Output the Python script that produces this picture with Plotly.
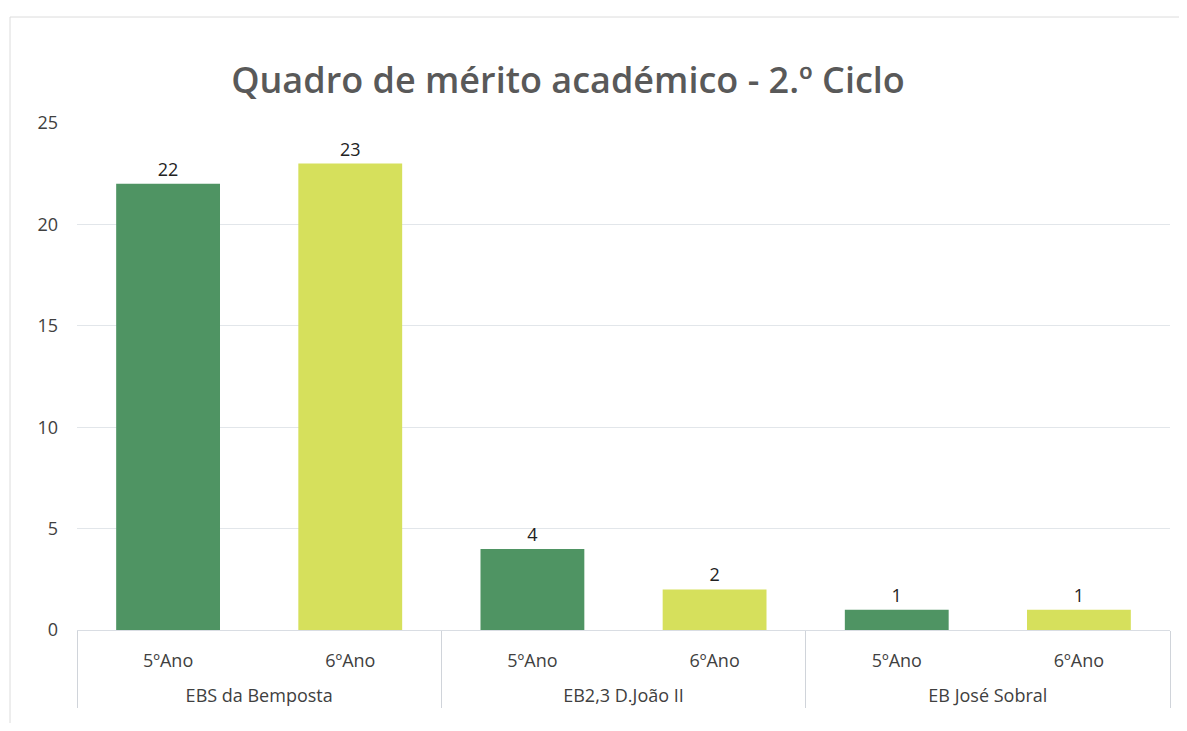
import plotly.graph_objects as go

schools = ["EBS da Bemposta", "EBS da Bemposta", "EB2,3 D.João II", "EB2,3 D.João II",
           "EB José Sobral", "EB José Sobral"]
years = ["5ºAno", "6ºAno", "5ºAno", "6ºAno", "5ºAno", "6ºAno"]
values = [22, 23, 4, 2, 1, 1]
year_colors = {"5ºAno": "#4f9463", "6ºAno": "#d6e05c"}
y_ticks = [0, 5, 10, 15, 20, 25]

# school-row labels start with an invisible line so they sit lower (as in Excel)
spacer = "<span style='color:rgba(0,0,0,0)'>.</span><br>"
school_labels = [spacer + s for s in schools]

OFF = 8  # page body margin
W, H = 1187 - 2 * OFF, 731 - 2 * OFF
L = 77 - OFF
T = 123 - OFF
R = W - (1170 - OFF)
B = H - (630 - OFF)
pw, ph = W - L - R, H - T - B

fig = go.Figure()
fig.add_trace(go.Bar(
    x=[school_labels, years],
    y=values,
    marker=dict(color=[year_colors[y] for y in years], line=dict(width=0)),
    text=[str(v) for v in values],
    textposition="outside",
    cliponaxis=False,
    textfont=dict(family="Open Sans", size=18, color="#222222"),
    showlegend=False,
))

fig.update_layout(
    width=W, height=H,
    margin=dict(l=L, r=R, t=T, b=B),
    paper_bgcolor="white",
    plot_bgcolor="white",
    bargap=0.43,
    title=dict(
        text="Quadro de mérito académico - 2.º Ciclo",
        x=(568 - OFF - L) / pw, xref="paper", xanchor="center",
        y=1 - (80 - OFF) / H, yref="container", yanchor="middle",
        font=dict(family="Open Sans", size=36, color="#595959", weight=600),
    ),
    font=dict(family="Open Sans", size=18, color="#404040"),
    xaxis=dict(
        type="multicategory",
        showline=True, linecolor="#d9dde3", linewidth=1,
        showdividers=True, dividercolor="#d0d4da", dividerwidth=1,
        tickfont=dict(family="Open Sans", size=18, color="#404040"),
        ticks="", ticklabelstandoff=14,
        showgrid=False,
    ),
    yaxis=dict(
        range=[0, 25],
        tickvals=y_ticks,
        showgrid=True, gridcolor="#e2e6ea", gridwidth=1,
        zeroline=False, showline=False,
        ticks="", ticklabelstandoff=18,
        tickfont=dict(family="Open Sans", size=18, color="#404040"),
    ),
    shapes=[
        dict(type="line", xref="paper", yref="paper",
             x0=(10 - 77) / pw, x1=(1180 - 77) / pw,
             y0=1 + (123 - 17) / ph, y1=1 + (123 - 17) / ph,
             line=dict(color="#dcdcdc", width=1)),
        dict(type="line", xref="paper", yref="paper",
             x0=(10 - 77) / pw, x1=(10 - 77) / pw,
             y0=1 + (123 - 17) / ph, y1=-(731 - 630) / ph,
             line=dict(color="#dcdcdc", width=1)),
    ],
)

fig.write_html("out.html")
